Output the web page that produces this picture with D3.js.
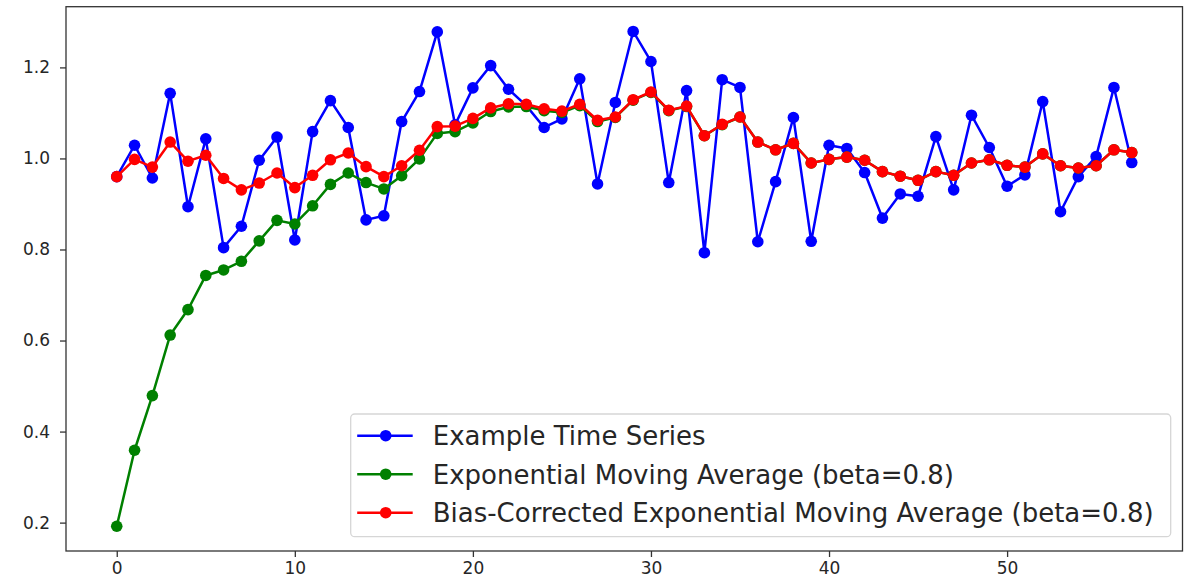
<!DOCTYPE html>
<html>
<head>
<meta charset="utf-8">
<script src="https://cdn.jsdelivr.net/npm/d3@7"></script>
<style>
  html, body { margin: 0; padding: 0; background: #fff; }
  svg { display: block; }
  text { font-family: "DejaVu Sans", sans-serif; fill: #262626; }
</style>
</head>
<body>
<svg id="chart" width="1191" height="587"></svg>
<script>
// Raw time series
const series = [
  0.960, 1.029, 0.957, 1.143, 0.894, 1.043, 0.804, 0.851, 0.996, 1.047,
  0.821, 1.059, 1.127, 1.068, 0.865, 0.874, 1.081, 1.147, 1.278, 1.074,
  1.155, 1.204, 1.152, 1.116, 1.068, 1.087, 1.175, 0.944, 1.123, 1.279,
  1.213, 0.947, 1.149, 0.793, 1.173, 1.156, 0.817, 0.949, 1.090, 0.818,
  1.029, 1.022, 0.969, 0.869, 0.922, 0.917, 1.048, 0.931, 1.095, 1.024,
  0.939, 0.964, 1.125, 0.883, 0.960, 1.004, 1.156, 0.991
];

// Exponential moving average (beta = 0.8)
const ema = [
  0.192, 0.359, 0.479, 0.612, 0.668, 0.743, 0.755, 0.774, 0.819, 0.864,
  0.856, 0.896, 0.943, 0.968, 0.947, 0.933, 0.962, 0.999, 1.055, 1.059,
  1.078, 1.103, 1.113, 1.114, 1.105, 1.101, 1.116, 1.081, 1.090, 1.128,
  1.145, 1.105, 1.114, 1.050, 1.074, 1.091, 1.036, 1.019, 1.033, 0.990,
  0.998, 1.003, 0.996, 0.971, 0.961, 0.952, 0.971, 0.963, 0.990, 0.997,
  0.985, 0.981, 1.010, 0.984, 0.979, 0.984, 1.019, 1.013
];

// Bias-corrected exponential moving average (beta = 0.8)
const emaCorrected = [
  0.960, 0.998, 0.981, 1.036, 0.994, 1.007, 0.956, 0.931, 0.946, 0.968,
  0.936, 0.963, 0.997, 1.012, 0.982, 0.960, 0.984, 1.018, 1.070, 1.071,
  1.088, 1.111, 1.120, 1.119, 1.109, 1.104, 1.119, 1.084, 1.091, 1.129,
  1.146, 1.106, 1.115, 1.050, 1.075, 1.091, 1.036, 1.019, 1.033, 0.990,
  0.998, 1.003, 0.996, 0.971, 0.961, 0.952, 0.971, 0.963, 0.990, 0.997,
  0.985, 0.981, 1.010, 0.984, 0.979, 0.984, 1.019, 1.013
];

const seriesLabels = [
  "Example Time Series",
  "Exponential Moving Average (beta=0.8)",
  "Bias-Corrected Exponential Moving Average (beta=0.8)"
];
const seriesColors = ["#0000ff", "#008000", "#ff0000"];

const xTicks = [0, 10, 20, 30, 40, 50];
const yTicks = [0.2, 0.4, 0.6, 0.8, 1.0, 1.2];

const svg = d3.select("#chart");
const box = { left: 66, right: 1182.5, top: 6.7, bottom: 551 };

// Axis limits with 5% padding on each side of the data extent
const n = series.length;
const xPad = (n - 1) * 0.05;
const allVals = series.concat(ema, emaCorrected);
const [yMin, yMax] = d3.extent(allVals);
const yPad = (yMax - yMin) * 0.05;

const x = d3.scaleLinear().domain([-xPad, n - 1 + xPad]).range([box.left, box.right]);
const y = d3.scaleLinear().domain([yMin - yPad, yMax + yPad]).range([box.bottom, box.top]);

const plot = svg.append("g");
plot.append("clipPath").attr("id", "clip")
  .append("rect")
  .attr("x", box.left).attr("y", box.top)
  .attr("width", box.right - box.left).attr("height", box.bottom - box.top);

const line = d3.line().x((d, i) => x(i)).y(d => y(d));
const data = [series, ema, emaCorrected];

const marks = plot.append("g").attr("clip-path", "url(#clip)");
data.forEach((vals, k) => {
  marks.append("path")
    .datum(vals)
    .attr("d", line)
    .attr("fill", "none")
    .attr("stroke", seriesColors[k])
    .attr("stroke-width", 2.5)
    .attr("stroke-linejoin", "round");
  marks.append("g")
    .selectAll("circle")
    .data(vals)
    .join("circle")
    .attr("cx", (d, i) => x(i))
    .attr("cy", d => y(d))
    .attr("r", 5.8)
    .attr("fill", seriesColors[k]);
});

// Axes
const xAxis = d3.axisBottom(x).tickValues(xTicks).tickFormat(d3.format("d"))
  .tickSize(6).tickPadding(5);
const yAxis = d3.axisLeft(y).tickValues(yTicks).tickFormat(d3.format(".1f"))
  .tickSize(6).tickPadding(10);

const gx = svg.append("g").attr("transform", `translate(0,${box.bottom})`).call(xAxis);
const gy = svg.append("g").attr("transform", `translate(${box.left},0)`).call(yAxis);
[gx, gy].forEach(g => {
  g.select(".domain").remove();
  g.selectAll(".tick line").attr("stroke", "#333").attr("stroke-width", 1.3);
  g.selectAll(".tick text").attr("font-size", 17).attr("fill", "#262626")
    .attr("font-family", "DejaVu Sans, sans-serif");
});

// Frame
svg.append("rect")
  .attr("x", box.left).attr("y", box.top)
  .attr("width", box.right - box.left).attr("height", box.bottom - box.top)
  .attr("fill", "none").attr("stroke", "#333").attr("stroke-width", 1.3);

// Legend
const legend = svg.append("g").attr("transform", "translate(350.7,414)");
legend.append("rect")
  .attr("width", 820).attr("height", 122.7)
  .attr("rx", 4).attr("ry", 4)
  .attr("fill", "#fff").attr("fill-opacity", 0.8)
  .attr("stroke", "#d6d6d6").attr("stroke-width", 1.3);

seriesLabels.forEach((label, k) => {
  const row = legend.append("g").attr("transform", `translate(0,${21.7 + k * 38.5})`);
  row.append("line")
    .attr("x1", 6.5).attr("x2", 62)
    .attr("stroke", seriesColors[k]).attr("stroke-width", 2.5);
  row.append("circle").attr("cx", 35).attr("r", 5.8).attr("fill", seriesColors[k]);
  row.append("text")
    .attr("x", 82).attr("dy", "0.36em")
    .attr("font-size", 26)
    .text(label);
});
</script>
</body>
</html>
